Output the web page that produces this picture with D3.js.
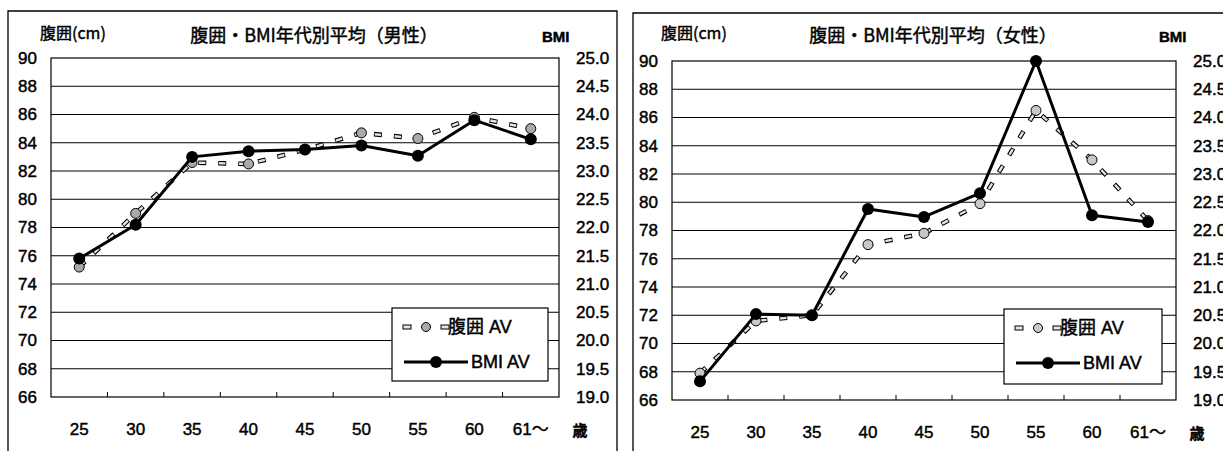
<!DOCTYPE html>
<html>
<head>
<meta charset="utf-8">
<script src="https://cdn.jsdelivr.net/npm/d3@7"></script>
<style>
  html, body { margin: 0; padding: 0; background: #fff; }
  svg { display: block; }
  text { fill: #000; stroke: #000; stroke-width: 0.45px; }
</style>
</head>
<body>
<svg id="chart" width="1223" height="451"></svg>
<script>
// Age groups (x axis)
const ageLabels = ["25", "30", "35", "40", "45", "50", "55", "60", "61〜"];

// Men: average waist (cm) and BMI per age group
const waistMale = [75.2, 79.0, 82.6, 82.5, 83.5, 84.7, 84.3, 85.8, 85.0];
const bmiMale   = [21.45, 22.05, 23.25, 23.35, 23.38, 23.45, 23.27, 23.9, 23.56];

// Women: average waist (cm) and BMI per age group
const waistFemale = [67.9, 71.6, 72.0, 77.0, 77.8, 79.9, 86.5, 83.0, 78.7];
const bmiFemale   = [19.33, 20.52, 20.50, 22.38, 22.24, 22.66, 25.0, 22.27, 22.15];

// Axis ticks
const waistTicks = [66, 68, 70, 72, 74, 76, 78, 80, 82, 84, 86, 88, 90];
const bmiTicks   = [19.0, 19.5, 20.0, 20.5, 21.0, 21.5, 22.0, 22.5, 23.0, 23.5, 24.0, 24.5, 25.0];

// Texts
const titleMale = "腹囲・BMI年代別平均（男性）";
const titleFemale = "腹囲・BMI年代別平均（女性）";
const leftAxisTitle = "腹囲(cm)";
const rightAxisTitle = "BMI";
const ageUnit = "歳";
const legendWaist = "腹囲 AV";
const legendBmi = "BMI AV";

const LATIN = "'Liberation Sans', Arial, 'Noto Sans CJK JP', sans-serif";
const CJK = "'Noto Sans CJK JP', 'Liberation Sans', sans-serif";

const svg = d3.select("#chart");

function drawPanel(opt) {
  const g = svg.append("g");
  const { frame, plot } = opt;

  // panel frame (open at the bottom edge of the page)
  g.append("path")
    .attr("d", `M${frame.left},${frame.bottom} V${frame.top} H${frame.right} V${frame.bottom}`)
    .attr("fill", "none").attr("stroke", "#000").attr("stroke-width", 1.3);

  const x = d3.scaleBand().domain(ageLabels).range([plot.left, plot.right]);
  const cx = d => x(d) + x.bandwidth() / 2;
  const yW = d3.scaleLinear().domain([66, 90]).range([plot.bottom, plot.top]);
  const yB = d3.scaleLinear().domain([19, 25]).range([plot.bottom, plot.top]);

  // gridlines
  g.append("g").selectAll("line").data(waistTicks.slice(1, -1)).join("line")
    .attr("x1", plot.left).attr("x2", plot.right)
    .attr("y1", d => yW(d)).attr("y2", d => yW(d))
    .attr("stroke", "#000").attr("stroke-width", 1);

  // plot border
  g.append("rect")
    .attr("x", plot.left).attr("y", plot.top)
    .attr("width", plot.right - plot.left).attr("height", plot.bottom - plot.top)
    .attr("fill", "none").attr("stroke", "#000").attr("stroke-width", 1.2);

  // inner ticks at category boundaries
  g.append("g").selectAll("line").data(ageLabels.slice(1)).join("line")
    .attr("x1", d => x(d)).attr("x2", d => x(d))
    .attr("y1", plot.bottom).attr("y2", plot.bottom - 5)
    .attr("stroke", "#000").attr("stroke-width", 1);

  // left axis labels
  const axL = g.append("g").attr("transform", `translate(${plot.left - 14},0)`)
    .call(d3.axisLeft(yW).tickValues(waistTicks).tickSize(0).tickPadding(0).tickFormat(d3.format("d")));
  axL.select(".domain").remove();
  axL.selectAll("text").attr("font-family", LATIN).attr("font-size", 17).attr("fill", "#000");

  // right axis labels
  const axR = g.append("g").attr("transform", `translate(${plot.right + 17},0)`)
    .call(d3.axisRight(yB).tickValues(bmiTicks).tickSize(0).tickPadding(0).tickFormat(d3.format(".1f")));
  axR.select(".domain").remove();
  axR.selectAll("text").attr("font-family", LATIN).attr("font-size", 17).attr("fill", "#000");

  // x axis labels
  const axB = g.append("g").attr("transform", `translate(0,${plot.bottom + 32})`)
    .call(d3.axisBottom(x).tickSize(0).tickPadding(0));
  axB.select(".domain").remove();
  axB.selectAll("text").attr("font-family", LATIN).attr("font-size", 17).attr("fill", "#000")
    .attr("dy", "0.35em");

  g.append("text").attr("x", plot.right + 21).attr("y", plot.bottom + 39)
    .attr("text-anchor", "middle").attr("font-family", CJK).attr("font-size", 15)
    .attr("font-weight", "bold").text(ageUnit);

  // titles
  g.append("text").attr("x", plot.left - 11).attr("y", 39)
    .attr("font-family", CJK).attr("font-size", 16).text(leftAxisTitle);
  g.append("text").attr("x", (plot.left + plot.right) / 2 + 9).attr("y", 42)
    .attr("text-anchor", "middle").attr("font-family", CJK).attr("font-size", 18)
    .text(opt.title);
  g.append("text").attr("x", plot.right - 17).attr("y", 42)
    .attr("font-family", LATIN).attr("font-size", 15).attr("font-weight", "bold")
    .text(rightAxisTitle);

  // waist series: outlined dashes + grey markers
  const waistLine = d3.line().x((d, i) => cx(ageLabels[i])).y(d => yW(d));
  g.append("path").datum(opt.waist).attr("d", waistLine)
    .attr("fill", "none").attr("stroke", "#000").attr("stroke-width", 4.6)
    .attr("stroke-dasharray", "8,12");
  g.append("path").datum(opt.waist).attr("d", waistLine)
    .attr("fill", "none").attr("stroke", "#e4e4e4").attr("stroke-width", 2.4)
    .attr("stroke-dasharray", "6.4,13.6").attr("stroke-dashoffset", -0.8);
  g.append("g").selectAll("circle").data(opt.waist).join("circle")
    .attr("cx", (d, i) => cx(ageLabels[i])).attr("cy", d => yW(d)).attr("r", 5)
    .attr("fill", opt.markerFill).attr("stroke", "#000").attr("stroke-width", 1);

  // BMI series
  const bmiLine = d3.line().x((d, i) => cx(ageLabels[i])).y(d => yB(d));
  g.append("path").datum(opt.bmi).attr("d", bmiLine)
    .attr("fill", "none").attr("stroke", "#000").attr("stroke-width", 3)
    .attr("stroke-linejoin", "round");
  g.append("g").selectAll("circle").data(opt.bmi).join("circle")
    .attr("cx", (d, i) => cx(ageLabels[i])).attr("cy", d => yB(d)).attr("r", 6)
    .attr("fill", "#000");

  // legend
  const lg = opt.legend;
  const L = g.append("g").attr("transform", `translate(${lg.x},${lg.y})`);
  L.append("rect").attr("width", lg.w).attr("height", lg.h)
    .attr("fill", "#fff").attr("stroke", "#000").attr("stroke-width", 1.2);
  const r1 = 19, r2 = 54;
  [15, 53].forEach(px => {
    L.append("rect").attr("x", px - 4).attr("y", r1 - 2).attr("width", 8).attr("height", 4)
      .attr("fill", "#e4e4e4").attr("stroke", "#000").attr("stroke-width", 1);
  });
  L.append("circle").attr("cx", 34).attr("cy", r1).attr("r", 4.5)
    .attr("fill", opt.markerFill).attr("stroke", "#000").attr("stroke-width", 1);
  L.append("text").attr("x", 56).attr("y", r1).attr("dy", "0.36em")
    .attr("font-family", LATIN).attr("font-size", 18).text(legendWaist);
  L.append("line").attr("x1", 12).attr("x2", 76).attr("y1", r2).attr("y2", r2)
    .attr("stroke", "#000").attr("stroke-width", 3);
  L.append("circle").attr("cx", 44).attr("cy", r2).attr("r", 6).attr("fill", "#000");
  L.append("text").attr("x", 79).attr("y", r2).attr("dy", "0.36em")
    .attr("font-family", LATIN).attr("font-size", 18).text(legendBmi);
}

drawPanel({
  frame: { left: 8, top: 11, right: 617, bottom: 455 },
  plot: { left: 51, right: 559, top: 58, bottom: 397 },
  title: titleMale,
  waist: waistMale, bmi: bmiMale,
  markerFill: "#a9a9a9",
  legend: { x: 392, y: 308, w: 156, h: 73 }
});

drawPanel({
  frame: { left: 633, top: 13, right: 1240, bottom: 455 },
  plot: { left: 672, right: 1176, top: 61, bottom: 400 },
  title: titleFemale,
  waist: waistFemale, bmi: bmiFemale,
  markerFill: "#c8c8c8",
  legend: { x: 1004, y: 309, w: 158, h: 75 }
});
</script>
</body>
</html>
